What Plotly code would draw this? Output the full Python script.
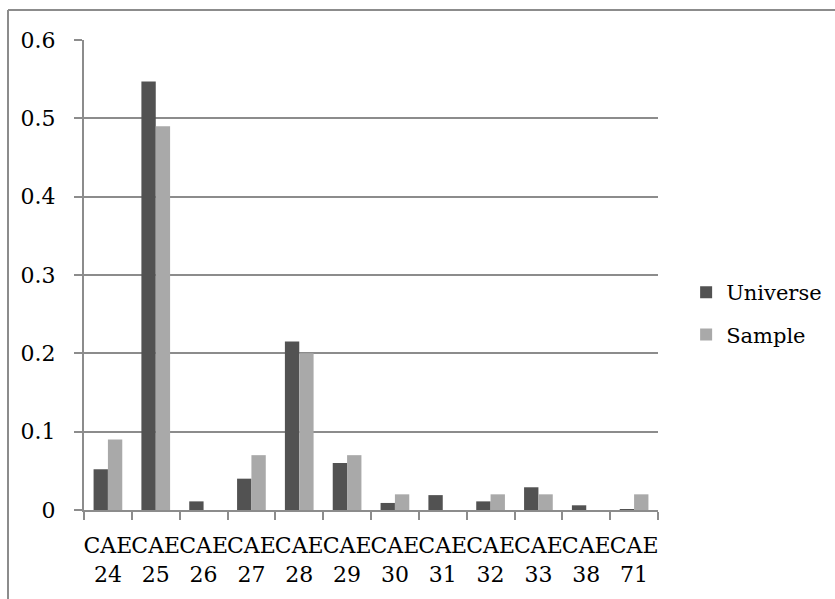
import plotly.graph_objects as go

# Category codes and shares
categories = ["CAE<br>24", "CAE<br>25", "CAE<br>26", "CAE<br>27", "CAE<br>28", "CAE<br>29",
              "CAE<br>30", "CAE<br>31", "CAE<br>32", "CAE<br>33", "CAE<br>38", "CAE<br>71"]
universe = [0.052, 0.547, 0.011, 0.040, 0.215, 0.060, 0.009, 0.019, 0.011, 0.029, 0.006, 0.001]
sample = [0.09, 0.49, 0.0, 0.07, 0.20, 0.07, 0.02, 0.0, 0.02, 0.02, 0.0, 0.02]
y_ticks = [0, 0.1, 0.2, 0.3, 0.4, 0.5, 0.6]
y_tick_text = ["0", "0.1", "0.2", "0.3", "0.4", "0.5", "0.6"]

FONT = "DejaVu Serif"
GRID = "#8c8c8c"

fig = go.Figure()
fig.add_trace(go.Bar(x=categories, y=universe, name="Universe",
                     marker=dict(color="#525252", line=dict(width=0)),
                     legendgroup="u"))
fig.add_trace(go.Bar(x=categories, y=sample, name="Sample",
                     marker=dict(color="#a9a9a9", line=dict(width=0)),
                     legendgroup="s"))

fig.update_layout(
    width=835, height=599,
    margin=dict(l=84, r=177, t=40, b=89, autoexpand=False),
    paper_bgcolor="white", plot_bgcolor="white",
    barmode="group", bargap=0.4, bargroupgap=0,
    font=dict(family=FONT, size=22, color="#000000"),
    showlegend=True,
    legend=dict(x=1.049, y=0.418, xanchor="left", yanchor="middle",
                font=dict(family=FONT, size=21), tracegroupgap=12,
                bgcolor="rgba(0,0,0,0)"),
    xaxis=dict(showline=True, linecolor=GRID, linewidth=2,
               ticks="outside", tickson="boundaries", ticklen=8, tickwidth=2,
               tickcolor=GRID, showgrid=False, tickangle=0, automargin=False,
               ticklabelstandoff=15,
               tickfont=dict(family=FONT, size=22)),
    yaxis=dict(range=[0, 0.6], tickvals=y_ticks, ticktext=y_tick_text,
               showline=True, linecolor=GRID, linewidth=2,
               ticks="outside", ticklen=8, tickwidth=2, tickcolor=GRID,
               showgrid=True, gridcolor=GRID, gridwidth=2, zeroline=False,
               ticklabelstandoff=14, automargin=False,
               tickfont=dict(family=FONT, size=22)),
    shapes=[
        # outer chart frame (top and left edges fall inside the page)
        dict(type="line", xref="paper", yref="paper",
             x0=(8 - 84) / 574, x1=1.5, y0=(510 - 10) / 470, y1=(510 - 10) / 470,
             line=dict(color="#8c8c8c", width=2)),
        dict(type="line", xref="paper", yref="paper",
             x0=(8 - 84) / 574, x1=(8 - 84) / 574, y0=(510 - 10) / 470, y1=-0.5,
             line=dict(color="#8c8c8c", width=2)),
    ],
)

fig.write_html("out.html")
